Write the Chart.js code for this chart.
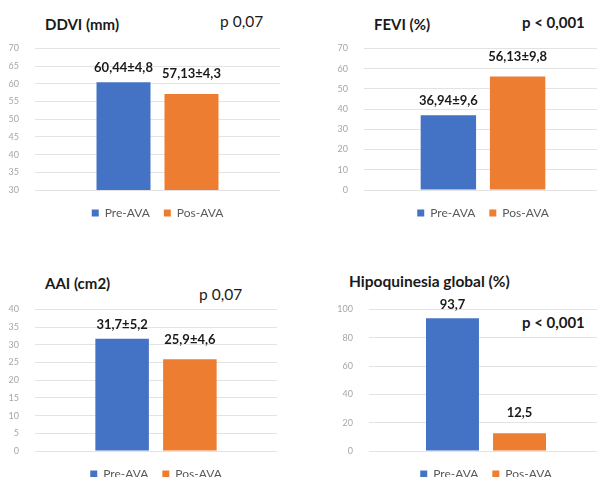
<!DOCTYPE html>
<html>
<head>
<meta charset="utf-8">
<script src="https://cdn.jsdelivr.net/npm/chart.js@4.4.1/dist/chart.umd.min.js"></script>
<style>
  body { margin: 0; width: 597px; height: 477px; overflow: hidden; position: relative; background: #fff; font-family: Lato, "Open Sans", sans-serif; }
  .box { position: absolute; }
  .txt { position: absolute; white-space: nowrap; color: #1a1a1a; line-height: 1; transform: translateY(-50%); }
</style>
</head>
<body>
<script>
// chart data, one entry per panel
const titles = ['DDVI (mm)', 'FEVI (%)', 'AAI (cm2)', 'Hipoquinesia global (%)'];
const pTexts = ['p 0,07', 'p < 0,001', 'p 0,07', 'p < 0,001'];
const seriesNames = ['Pre-AVA', 'Pos-AVA'];
const preValues = [60.44, 36.94, 31.7, 93.7];
const posValues = [57.13, 56.13, 25.9, 12.5];
const preLabels = ['60,44±4,8', '36,94±9,6', '31,7±5,2', '93,7'];
const posLabels = ['57,13±4,3', '56,13±9,8', '25,9±4,6', '12,5'];
const yMins = [30, 0, 0, 0];
const yMaxs = [70, 70, 40, 100];
const ySteps = [5, 10, 5, 20];

const colors = ['#4472C4', '#ED7D31'];

// where each panel sits on the page (canvas box, axis width, text spots)
const layout = [
  { left: 0,   top: 27,  width: 297, height: 202, axisW: 35, padRight: 17, cat: 0.555, bar: 0.794,
    title: [45, 24, 15], p: [220, 22, 15.5, 400] },
  { left: 297, top: 27,  width: 305, height: 202, axisW: 67, padRight: 0,  cat: 0.582, bar: 0.8,
    title: [77, 24, 15], p: [225, 22, 15, 700] },
  { left: 0,   top: 288, width: 297, height: 202, axisW: 35, padRight: 20, cat: 0.56,  bar: 0.79,
    title: [45, 283, 15], p: [199, 295, 15.5, 400] },
  { left: 297, top: 288, width: 306, height: 202, axisW: 72, padRight: 0,  cat: 0.573, bar: 0.79,
    title: [52, 282, 15.5], p: [225, 322, 15, 700] }
];

// draws the value text above each bar
const barLabels = {
  id: 'barLabels',
  afterDatasetsDraw(chart, args, opts) {
    const ctx = chart.ctx;
    ctx.save();
    ctx.font = 'bold 13px Lato, sans-serif';
    ctx.fillStyle = '#1a1a1a';
    ctx.textAlign = 'center';
    ctx.textBaseline = 'middle';
    chart.data.datasets.forEach((ds, di) => {
      chart.getDatasetMeta(di).data.forEach(bar => {
        ctx.fillText(opts.texts[di], bar.x, bar.y - opts.gaps[di]);
      });
    });
    ctx.restore();
  }
};

function addText(str, x, y, size, weight) {
  const d = document.createElement('div');
  d.className = 'txt';
  d.textContent = str;
  d.style.left = x + 'px';
  d.style.top = y + 'px';
  d.style.fontSize = size + 'px';
  d.style.fontWeight = weight;
  document.body.appendChild(d);
}

titles.forEach((title, i) => {
  const L = layout[i];
  const baseLeft = (i % 2) * 297;
  addText(title, baseLeft + L.title[0], L.title[1], L.title[2], 700);
  addText(pTexts[i], baseLeft + L.p[0], L.p[1], L.p[2], L.p[3]);

  const box = document.createElement('div');
  box.className = 'box';
  box.style.left = L.left + 'px';
  box.style.top = L.top + 'px';
  box.style.width = L.width + 'px';
  box.style.height = L.height + 'px';
  const canvas = document.createElement('canvas');
  box.appendChild(canvas);
  document.body.appendChild(box);

  new Chart(canvas, {
    type: 'bar',
    data: {
      labels: [''],
      datasets: [
        { label: seriesNames[0], data: [preValues[i]], backgroundColor: colors[0],
          categoryPercentage: L.cat, barPercentage: L.bar },
        { label: seriesNames[1], data: [posValues[i]], backgroundColor: colors[1],
          categoryPercentage: L.cat, barPercentage: L.bar }
      ]
    },
    options: {
      responsive: true,
      maintainAspectRatio: false,
      animation: false,
      layout: { padding: { top: 10, right: L.padRight, left: 0, bottom: 0 } },
      scales: {
        x: {
          grid: { display: false },
          border: { display: false },
          ticks: { display: false },
          afterFit: s => { s.height = 3; }
        },
        y: {
          min: yMins[i],
          max: yMaxs[i],
          ticks: { stepSize: ySteps[i], padding: 16, color: '#a6a6a6',
                   font: { family: 'Lato, sans-serif', size: 9 } },
          grid: { color: '#e3e3e3', drawTicks: false },
          border: { display: false },
          afterFit: s => { s.width = L.axisW; }
        }
      },
      plugins: {
        legend: {
          position: 'bottom',
          fullSize: false,
          labels: { boxWidth: 7, boxHeight: 7, padding: 14, color: '#595959',
                    font: { family: 'Lato, sans-serif', size: 12 } }
        },
        tooltip: { enabled: false },
        barLabels: { texts: [preLabels[i], posLabels[i]], gaps: [14, 20] }
      }
    },
    plugins: [barLabels]
  });
});
</script>
</body>
</html>
